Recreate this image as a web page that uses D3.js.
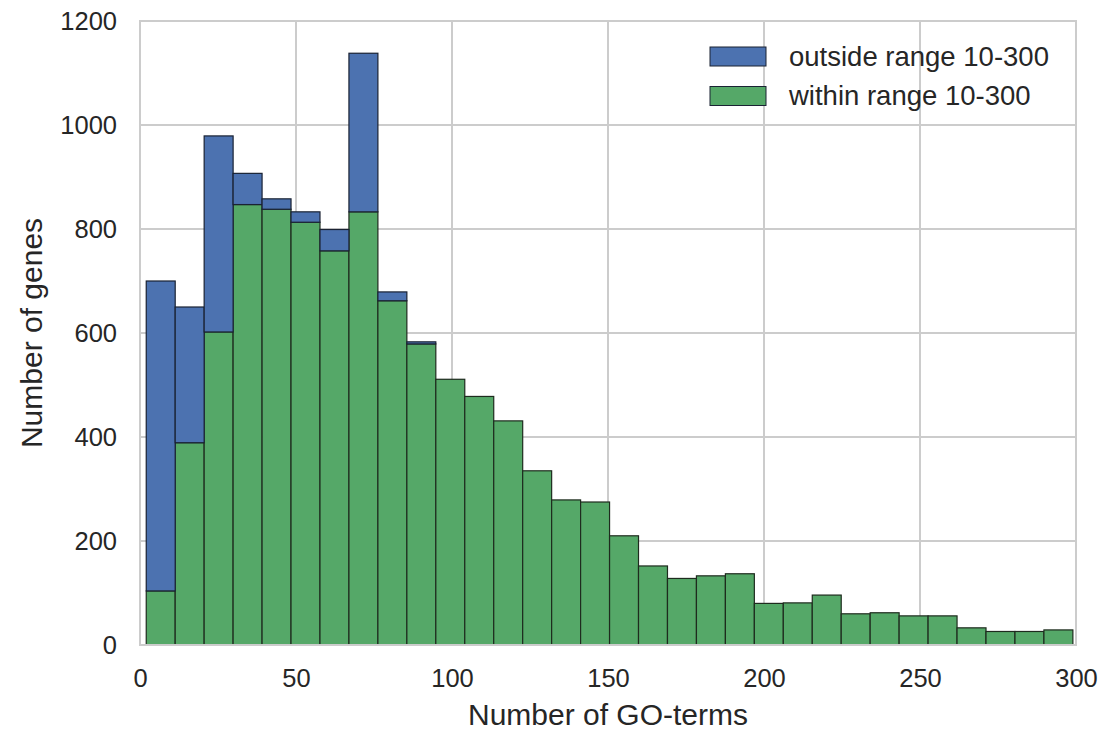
<html>
    <head>
        <title>GO-terms histogram</title>
        <style type="text/css">
            body{
                padding:0px;
                margin:0px;
                background:#fff;
            }
            svg{
                font-family:"Liberation Sans", Arial, sans-serif;
            }
        </style>
        <script src="https://d3js.org/d3.v7.min.js"></script>
        <script type="text/javascript">
            // histogram bins (number of GO-terms)
            binStart=2;
            binEnd=299;
            binCount=32;

            // counts, one per bin
            withinCounts=[104,389,602,847,838,813,758,833,662,579,
                          511,478,431,335,279,275,210,152,128,133,
                          137,80,81,96,60,62,56,56,33,26,
                          26,29];
            outsideCounts=[596,261,377,60,20,20,41,305,17,4,
                           0,0,0,0,0,0,0,0,0,0,
                           0,0,0,0,0,0,0,0,0,0,
                           0,0];

            seriesNames=["outside range 10-300","within range 10-300"];
            seriesColors=["#4C72B0","#55A868"];

            xTicks=[0,50,100,150,200,250,300];
            yTicks=[0,200,400,600,800,1000,1200];

            window.onload=function()
            {
                W=1107; H=737;
                margin={top:21,right:31,bottom:92,left:140};
                w=W-margin.left-margin.right;
                h=H-margin.top-margin.bottom;

                svg=d3.select("body").append("svg").attr("width",W).attr("height",H);
                g=svg.append("g").attr("transform","translate("+margin.left+","+margin.top+")");

                x=d3.scaleLinear().domain([0,300]).range([0,w]);
                y=d3.scaleLinear().domain([0,1200]).range([h,0]);

                binWidth=(binEnd-binStart)/binCount;
                bins=withinCounts.map(function(v,i){
                    return {x0:binStart+i*binWidth, x1:binStart+(i+1)*binWidth, within:v, outside:outsideCounts[i]};
                });

                // grid
                g.selectAll(".gx").data(xTicks.slice(1,-1)).enter().append("line")
                    .attr("x1",function(d){return x(d)}).attr("x2",function(d){return x(d)})
                    .attr("y1",0).attr("y2",h)
                    .attr("stroke","#cccccc").attr("stroke-width",2);
                g.selectAll(".gy").data(yTicks.slice(1,-1)).enter().append("line")
                    .attr("y1",function(d){return y(d)}).attr("y2",function(d){return y(d)})
                    .attr("x1",0).attr("x2",w)
                    .attr("stroke","#cccccc").attr("stroke-width",2);

                // stacked bars: within at the bottom, outside on top
                g.selectAll(".within").data(bins).enter().append("rect")
                    .attr("x",function(d){return x(d.x0)})
                    .attr("width",function(d){return x(d.x1)-x(d.x0)})
                    .attr("y",function(d){return y(d.within)})
                    .attr("height",function(d){return y(0)-y(d.within)})
                    .attr("fill",seriesColors[1]).attr("stroke","#1e2b1e").attr("stroke-width",1.2);
                g.selectAll(".outside").data(bins.filter(function(d){return d.outside>0})).enter().append("rect")
                    .attr("x",function(d){return x(d.x0)})
                    .attr("width",function(d){return x(d.x1)-x(d.x0)})
                    .attr("y",function(d){return y(d.within+d.outside)})
                    .attr("height",function(d){return y(d.within)-y(d.within+d.outside)})
                    .attr("fill",seriesColors[0]).attr("stroke","#1a2233").attr("stroke-width",1.2);

                // frame
                g.append("rect").attr("x",0).attr("y",0).attr("width",w).attr("height",h)
                    .attr("fill","none").attr("stroke","#cccccc").attr("stroke-width",2);

                // axes
                xa=g.append("g").attr("transform","translate(0,"+h+")")
                    .call(d3.axisBottom(x).tickValues(xTicks).tickFormat(d3.format("d")).tickSize(0).tickPadding(24));
                ya=g.append("g")
                    .call(d3.axisLeft(y).tickValues(yTicks).tickFormat(d3.format("d")).tickSize(0).tickPadding(23));
                [xa,ya].forEach(function(a){
                    a.select(".domain").remove();
                    a.selectAll("text").attr("font-size",25.5).attr("fill","#262626")
                        .attr("font-family","Liberation Sans, Arial, sans-serif");
                });

                // axis labels
                svg.append("text").attr("x",margin.left+w/2).attr("y",725)
                    .attr("text-anchor","middle").attr("font-size",30).attr("fill","#262626")
                    .text("Number of GO-terms");
                svg.append("text").attr("transform","translate(42,"+(margin.top+h/2)+") rotate(-90)")
                    .attr("text-anchor","middle").attr("font-size",30).attr("fill","#262626")
                    .text("Number of genes");

                // legend
                legend=svg.append("g");
                seriesNames.forEach(function(name,i){
                    legend.append("rect").attr("x",710).attr("y",47+i*39.5).attr("width",56).attr("height",19)
                        .attr("fill",seriesColors[i]).attr("stroke","#1a2233").attr("stroke-width",1);
                    legend.append("text").attr("x",789).attr("y",65.5+i*39.5)
                        .attr("font-size",27.5).attr("fill","#262626").text(name);
                });
            }
        </script>
    </head>
    <body>
    </body>
</html>
